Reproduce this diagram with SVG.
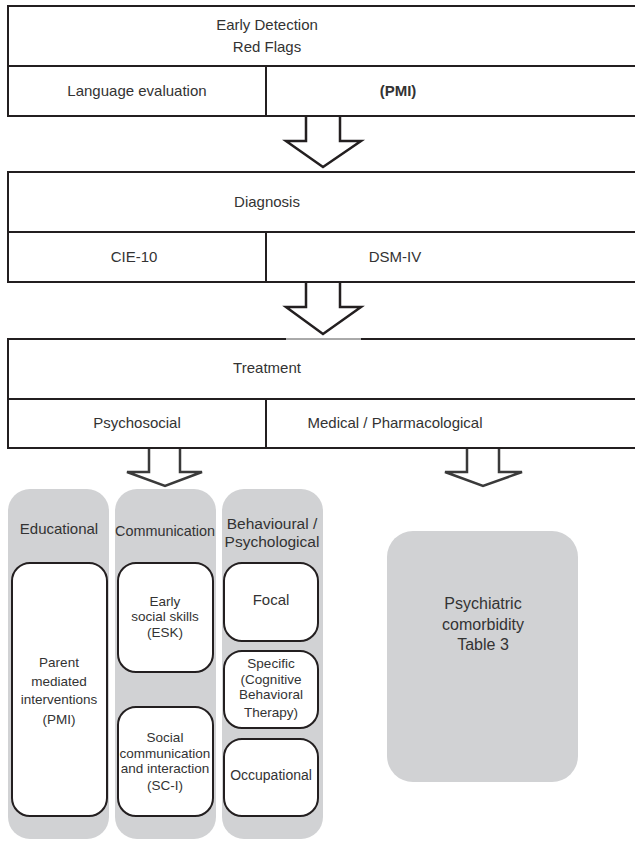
<svg xmlns="http://www.w3.org/2000/svg" width="635" height="841" viewBox="0 0 635 841">
<style>
.box{fill:#fff;stroke:#231f20;stroke-width:2}
.ln{stroke:#231f20;stroke-width:2;fill:none}
.arr{fill:#fff;stroke:#231f20;stroke-width:2.5;stroke-linejoin:miter}
.arr2{fill:#fff;stroke:#3a3a3a;stroke-width:2.5;stroke-linejoin:miter}
.col{fill:#d1d2d4}
.inner{fill:#fff;stroke:#231f20;stroke-width:2}
text{font-family:"Liberation Sans",Arial,sans-serif;fill:#333;text-anchor:middle}
.t15{font-size:15px}
.t13{font-size:13.5px}
.t16{font-size:16px}
</style>
<rect width="635" height="841" fill="#fff"/>

<g id="connectors">
<path class="arr" d="M306,116 V141 H286 L323,167 L361,141 H340 V116"/>
<path class="arr" d="M306,282 V307 H286 L323,334 L361,307 H340 V282"/>
<path class="arr2" d="M149,448 V472 H127 L165,486 L202,472 H180 V448"/>
<path class="arr2" d="M467,448 V472 H445 L483,486 L522,472 H499 V448"/>
</g>

<g id="early-detection">
<rect class="box" x="8" y="6" width="640" height="110"/>
<line class="ln" x1="8" y1="66" x2="640" y2="66"/>
<line class="ln" x1="266" y1="66" x2="266" y2="116"/>
<text class="t15" x="267" y="30">Early Detection</text>
<text class="t15" x="267" y="52">Red Flags</text>
<text class="t15" x="137" y="96">Language evaluation</text>
<text class="t15" x="398" y="96" font-weight="bold">(PMI)</text>
</g>

<g id="diagnosis">
<rect class="box" x="8" y="172" width="640" height="110"/>
<line class="ln" x1="8" y1="232" x2="640" y2="232"/>
<line class="ln" x1="266" y1="232" x2="266" y2="282"/>
<text class="t15" x="267" y="207">Diagnosis</text>
<text class="t15" x="134" y="262">CIE-10</text>
<text class="t15" x="395" y="262">DSM-IV</text>
</g>

<g id="treatment">
<rect class="box" x="8" y="339" width="640" height="109"/>
<line x1="286" y1="339" x2="361" y2="339" stroke="#fff" stroke-width="2.2"/>
<line x1="286" y1="339" x2="361" y2="339" stroke="#555" stroke-width="1"/>
<line class="ln" x1="8" y1="399" x2="640" y2="399"/>
<line class="ln" x1="266" y1="399" x2="266" y2="448"/>
<text class="t15" x="267" y="373">Treatment</text>
<text class="t15" x="137" y="428">Psychosocial</text>
<text class="t15" x="395" y="428">Medical / Pharmacological</text>
</g>

<g id="educational">
<rect class="col" x="8" y="489" width="101" height="350" rx="22"/>
<text class="t15" x="59" y="534">Educational</text>
<rect class="inner" x="12" y="563" width="95" height="253" rx="18"/>
<text class="t13" x="59" y="667">Parent</text>
<text class="t13" x="59" y="686">mediated</text>
<text class="t13" x="59" y="704">interventions</text>
<text class="t13" x="59" y="724">(PMI)</text>
</g>

<g id="communication">
<rect class="col" x="115" y="489" width="101" height="350" rx="22"/>
<text class="t15" x="165" y="536" textLength="100" lengthAdjust="spacingAndGlyphs">Communication</text>
<rect class="inner" x="118" y="563" width="95" height="109" rx="18"/>
<text class="t13" x="165" y="606">Early</text>
<text class="t13" x="165" y="621">social skills</text>
<text class="t13" x="165" y="637">(ESK)</text>
<rect class="inner" x="118" y="707" width="95" height="109" rx="18"/>
<text class="t13" x="165" y="742">Social</text>
<text class="t13" x="165" y="758">communication</text>
<text class="t13" x="165" y="773">and interaction</text>
<text class="t13" x="165" y="790">(SC-I)</text>
</g>

<g id="behavioural">
<rect class="col" x="222" y="489" width="101" height="350" rx="22"/>
<text class="t15" x="272" y="529" style="font-size:15.5px">Behavioural /</text>
<text class="t15" x="272" y="547" style="font-size:15.5px">Psychological</text>
<rect class="inner" x="224" y="563" width="94" height="78" rx="18"/>
<text class="t15" x="271" y="605">Focal</text>
<rect class="inner" x="224" y="651" width="94" height="77" rx="18"/>
<text class="t13" x="271" y="668">Specific</text>
<text class="t13" x="271" y="684">(Cognitive</text>
<text class="t13" x="271" y="699">Behavioral</text>
<text class="t13" x="271" y="717">Therapy)</text>
<rect class="inner" x="224" y="739" width="94" height="77" rx="18"/>
<text class="t15" x="271" y="780" style="font-size:14px">Occupational</text>
</g>

<g id="psychiatric-comorbidity">
<rect class="col" x="387" y="531" width="191" height="251" rx="26"/>
<text class="t16" x="483" y="609">Psychiatric</text>
<text class="t16" x="483" y="630">comorbidity</text>
<text class="t16" x="483" y="650">Table 3</text>
</g>
</svg>
